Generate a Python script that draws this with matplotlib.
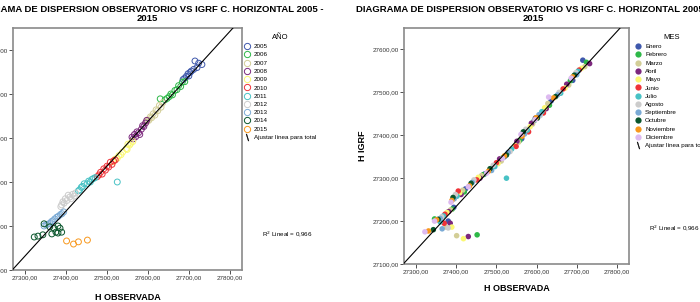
import numpy as np
import matplotlib.pyplot as plt
from matplotlib.lines import Line2D
from matplotlib.ticker import FuncFormatter

plt.rcParams['font.family'] = ['Liberation Sans', 'DejaVu Sans']

# Data: H observed (observatory) vs H IGRF, one list per year (Jan..Dec)
years = ['2005', '2006', '2007', '2008', '2009', '2010',
         '2011', '2012', '2013', '2014', '2015']
months = ['Enero', 'Febrero', 'Marzo', 'Abril', 'Mayo', 'Junio', 'Julio',
          'Agosto', 'Septiembre', 'Octubre', 'Noviembre', 'Diciembre']

obs_2005 = [27715, 27724, 27720, 27732, 27712, 27706, 27703, 27698, 27700, 27694, 27690, 27686]
igrf_2005 = [27575, 27570, 27560, 27567, 27556, 27552, 27549, 27546, 27541, 27540, 27536, 27533]
obs_2006 = [27690, 27684, 27680, 27675, 27671, 27666, 27660, 27656, 27652, 27647, 27642, 27630]
igrf_2006 = [27528, 27527, 27517, 27519, 27510, 27508, 27498, 27500, 27494, 27490, 27487, 27489]
obs_2007 = [27636, 27632, 27628, 27624, 27620, 27617, 27613, 27609, 27606, 27602, 27599, 27596]
igrf_2007 = [27480, 27470, 27474, 27462, 27464, 27452, 27455, 27446, 27448, 27440, 27441, 27436]
obs_2008 = [27597, 27594, 27590, 27587, 27584, 27580, 27577, 27573, 27570, 27567, 27564, 27561]
igrf_2008 = [27440, 27434, 27426, 27428, 27420, 27408, 27412, 27414, 27403, 27408, 27398, 27402]
obs_2009 = [27563, 27558, 27555, 27551, 27547, 27549, 27538, 27534, 27529, 27525, 27520, 27515]
igrf_2009 = [27392, 27388, 27384, 27386, 27376, 27374, 27368, 27362, 27360, 27354, 27352, 27346]
obs_2010 = [27520, 27516, 27512, 27508, 27504, 27500, 27496, 27492, 27488, 27484, 27480, 27476]
igrf_2010 = [27350, 27348, 27340, 27345, 27334, 27336, 27327, 27330, 27318, 27322, 27316, 27312]
obs_2011 = [27471, 27467, 27463, 27459, 27455, 27451, 27525, 27444, 27440, 27437, 27433, 27430]
igrf_2011 = [27310, 27308, 27306, 27300, 27302, 27296, 27300, 27296, 27290, 27288, 27282, 27280]
obs_2012 = [27423, 27420, 27416, 27412, 27409, 27405, 27402, 27398, 27395, 27392, 27389, 27387]
igrf_2012 = [27275, 27268, 27272, 27262, 27266, 27270, 27258, 27262, 27252, 27255, 27248, 27244]
obs_2013 = [27394, 27390, 27386, 27381, 27377, 27372, 27368, 27364, 27360, 27355, 27351, 27346]
igrf_2013 = [27232, 27228, 27226, 27222, 27220, 27216, 27212, 27210, 27206, 27204, 27203, 27200]
obs_2014 = [27380, 27346, 27375, 27385, 27389, 27370, 27360, 27380, 27365, 27343, 27331, 27322]
igrf_2014 = [27200, 27205, 27186, 27195, 27186, 27195, 27198, 27184, 27182, 27180, 27177, 27175]
# 2015: only February to May
obs_2015 = [27452, 27401, 27430, 27418]
igrf_2015 = [27168, 27166, 27164, 27159]
months_2015 = [2, 3, 4, 5]

obs_by_year = [obs_2005, obs_2006, obs_2007, obs_2008, obs_2009, obs_2010,
               obs_2011, obs_2012, obs_2013, obs_2014, obs_2015]
igrf_by_year = [igrf_2005, igrf_2006, igrf_2007, igrf_2008, igrf_2009, igrf_2010,
                igrf_2011, igrf_2012, igrf_2013, igrf_2014, igrf_2015]

x_ticks = [27300, 27400, 27500, 27600, 27700, 27800]
y_ticks = [27100, 27200, 27300, 27400, 27500, 27600]

colors = ['#3E58AC', '#2EB848', '#D3CE97', '#7C287D', '#FBF873', '#EF3338',
          '#48C2C5', '#CCCCCC', '#7AAAD5', '#0A562C', '#F8981D', '#DDBAF0']

# flatten
obs = np.concatenate([np.array(o, float) for o in obs_by_year])
igrf = np.concatenate([np.array(g, float) for g in igrf_by_year])
month_idx = np.concatenate([np.arange(1, 13)] * 10 + [np.array(months_2015)])
coef = np.polyfit(obs, igrf, 1)

title = "DIAGRAMA DE DISPERSION OBSERVATORIO VS IGRF C. HORIZONTAL 2005 -\n2015"
fmt = FuncFormatter(lambda v, p: f"{v:.2f}".replace('.', ','))

fig = plt.figure(figsize=(7, 3.02), dpi=100)
W, H = 700, 302
ax1 = fig.add_axes([13/W, 1-270/H, 229/W, 242/H])
ax2 = fig.add_axes([404/W, 1-264/H, 225/W, 236/H])

for ax in (ax1, ax2):
    ax.set_xlim(27270, 27830)
    ax.set_ylim(27100, 27650)
    ax.set_xticks(x_ticks)
    ax.set_yticks(y_ticks)
    ax.xaxis.set_major_formatter(fmt)
    ax.yaxis.set_major_formatter(fmt)
    ax.tick_params(labelsize=4.5, length=3, width=0.6, pad=1, colors='#333333')
    for s in ax.spines.values():
        s.set_color('#8a8a8a')
        s.set_linewidth(1.2)
    xs = np.array(ax.get_xlim())
    ax.plot(xs, np.polyval(coef, xs), color='k', lw=0.8, zorder=3)

ax1.set_xlabel("H OBSERVADA", fontsize=6.5, fontweight='bold', labelpad=9)
ax2.set_xlabel("H OBSERVADA", fontsize=6.5, fontweight='bold', labelpad=7)

# left: by year, open circles
for i, yr in enumerate(years):
    ax1.scatter(obs_by_year[i], igrf_by_year[i], s=18, facecolors='none',
                edgecolors=colors[i], linewidths=0.7, zorder=2)

# right: by month, filled circles
for m in range(1, 13):
    sel = month_idx == m
    ax2.scatter(obs[sel], igrf[sel], s=16, color=colors[m-1],
                edgecolors='none', zorder=2)
ax2.set_ylabel("H IGRF", fontsize=6.5, fontweight='bold', labelpad=4)

fit_handle = Line2D([], [], color='k', marker=r'$\backslash$', linestyle='none',
                    markersize=5, markeredgewidth=0.3)

h1 = [Line2D([], [], marker='o', linestyle='none', markerfacecolor='none',
             markeredgecolor=colors[i], markersize=4.5, markeredgewidth=0.7)
      for i in range(len(years))]
leg1 = ax1.legend(h1 + [fit_handle], years + ['Ajustar línea para total'],
                  title='AÑO', loc='upper left', bbox_to_anchor=(244/W, 1-34/H),
                  bbox_transform=fig.transFigure, frameon=False, fontsize=4.5,
                  title_fontsize=5.5, handlelength=1, handletextpad=0.6,
                  labelspacing=0.46, borderpad=0, borderaxespad=0)

h2 = [Line2D([], [], marker='o', linestyle='none', markerfacecolor=colors[m],
             markeredgecolor='none', markersize=4.5) for m in range(12)]
leg2 = ax2.legend(h2 + [fit_handle], months + ['Ajustar línea para total'],
                  title='MES', loc='upper left', bbox_to_anchor=(635/W, 1-34/H),
                  bbox_transform=fig.transFigure, frameon=False, fontsize=4.5,
                  title_fontsize=5.5, handlelength=1, handletextpad=0.6,
                  labelspacing=0.46, borderpad=0, borderaxespad=0)

fig.text(262/W, 1-234/H, "R$^2$ Lineal = 0,966", fontsize=4.5, va='center')
fig.text(649/W, 1-228/H, "R$^2$ Lineal = 0,966", fontsize=4.5, va='center')

fig.text(147/W, 1-5/H, title, fontsize=6.8, fontweight='bold', ha='center',
         va='top', linespacing=1.0)
fig.text(533/W, 1-5/H, title, fontsize=6.8, fontweight='bold', ha='center',
         va='top', linespacing=1.0)

fig.savefig('out.png', dpi=100)
